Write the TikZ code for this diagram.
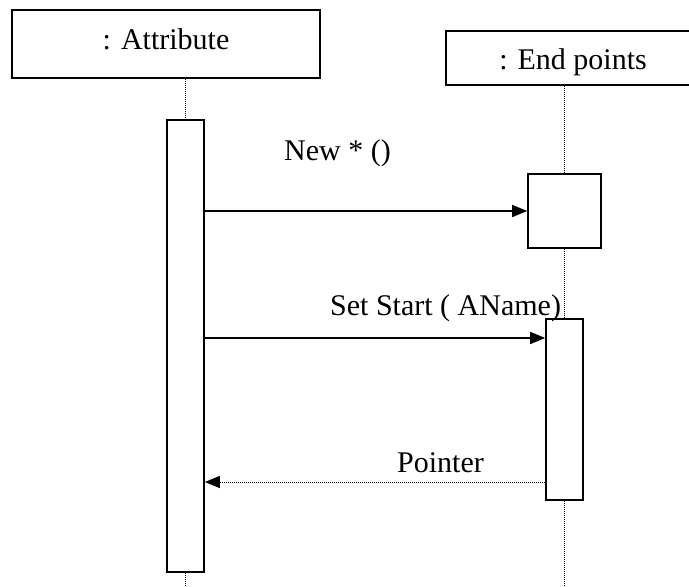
\documentclass[tikz,border=0pt]{standalone}
\usepackage{fontspec}
\setmainfont{Liberation Serif}
\usetikzlibrary{arrows.meta}
\begin{document}
\begin{tikzpicture}[x=1pt,y=-1pt,
  every node/.style={font=\fontsize{30}{36}\selectfont},
  obj/.style={draw,line width=1.6pt,inner sep=0pt,fill=white},
  actbar/.style={draw,line width=1.6pt,inner sep=0pt,fill=white},
  life/.style={line width=1pt,dash pattern=on 1pt off 1pt},
  msg/.style={line width=1.6pt,-{Triangle[length=15pt,width=12pt]}},
  reply/.style={line width=1pt,dash pattern=on 1pt off 1pt,
    -{Triangle[length=15pt,width=12pt]}},
  lbl/.style={anchor=base west,inner sep=0pt}]
\useasboundingbox (0,0) rectangle (689,587);

% object heads
\node[obj,minimum width=308pt,minimum height=68pt] (attr) at (166,44) {};
\node[anchor=base,inner sep=0pt] (attrlbl) at (166,49) {: Attribute};
\node[obj,minimum width=254pt,minimum height=54pt] (endp) at (573,58) {};
\node[anchor=base,inner sep=0pt] (endplbl) at (573,69) {: End points};

% activation bars
\node[actbar,minimum width=37pt,minimum height=452pt] (act1) at (185.5,346) {};
\node[actbar,minimum width=73pt,minimum height=74pt] (sq) at (564.5,211) {};
\node[actbar,minimum width=37pt,minimum height=181pt] (act2) at (564.5,409.5) {};

% lifelines
\coordinate (attrBottom) at (185.5,587);
\coordinate (endBottom) at (564.5,587);
\draw[life] (act1.north |- attr.south) -- (act1.north);
\draw[life] (act1.south) -- (attrBottom);
\draw[life] (sq.north |- endp.south) -- (sq.north);
\draw[life] (sq.south) -- (act2.north);
\draw[life] (act2.south) -- (endBottom);

% messages
\coordinate (m2) at (0,338);
\coordinate (m3) at (0,482);
\draw[msg] (act1.east |- sq.west) -- (sq.west);
\draw[msg] (act1.east |- m2) -- (act2.west |- m2);
\draw[reply] (act2.west |- m3) -- (act1.east |- m3);

% message labels
\node[lbl] (l1) at (284,160) {New * ()};
\node[lbl] (l2) at (330,315) {Set Start ( AName)};
\node[lbl] (l3) at (397,472) {Pointer};
\end{tikzpicture}
\end{document}
